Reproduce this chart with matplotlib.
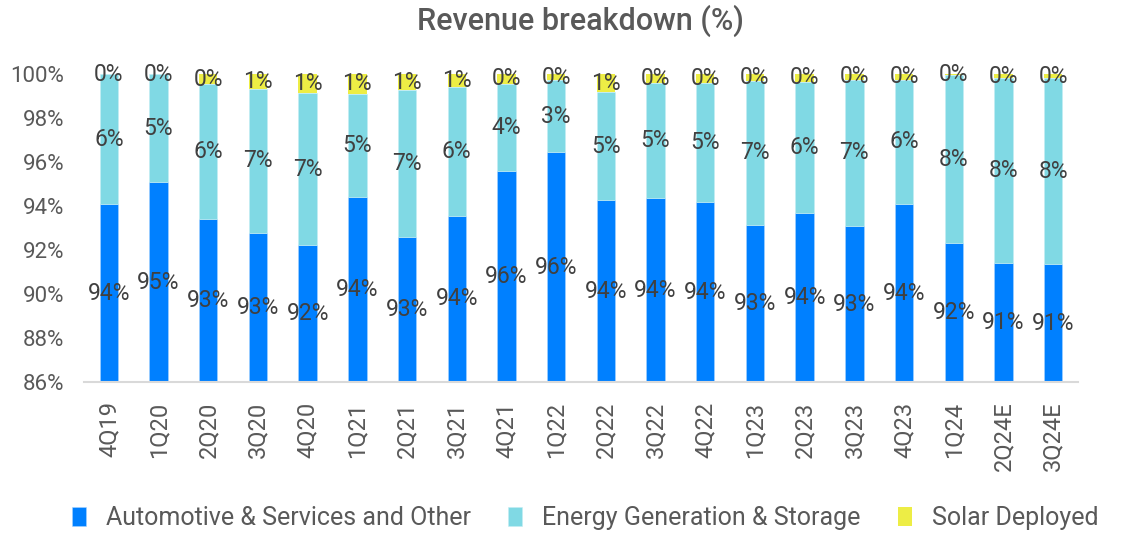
import matplotlib
matplotlib.use("Agg")
import matplotlib.pyplot as plt
import numpy as np

plt.rcParams['font.family'] = ['Roboto', 'DejaVu Sans']

quarters = ["4Q19", "1Q20", "2Q20", "3Q20", "4Q20", "1Q21", "2Q21", "3Q21", "4Q21", "1Q22",
            "2Q22", "3Q22", "4Q22", "1Q23", "2Q23", "3Q23", "4Q23", "1Q24", "2Q24E", "3Q24E"]

# shares in %
automotive = [94.09, 95.09, 93.40, 92.77, 92.23, 94.40, 92.60, 93.55, 95.60, 96.45,
              94.27, 94.36, 94.18, 93.14, 93.68, 93.09, 94.09, 92.32, 91.40, 91.36]
solar = [0.02, 0.02, 0.46, 0.68, 0.87, 0.91, 0.73, 0.61, 0.45, 0.28,
         0.83, 0.42, 0.42, 0.31, 0.36, 0.27, 0.27, 0.05, 0.20, 0.20]
energy = [100 - a - s for a, s in zip(automotive, solar)]

c_auto = "#0080FF"
c_energy = "#80D9E4"
c_solar = "#EDED45"
txt = "#404040"

fig = plt.figure(figsize=(11.32, 5.33), dpi=100)
ax = fig.add_axes([0.0742, 0.2833, 0.8781, 0.5779])

x = np.arange(len(quarters))
w = 0.37
b1 = ax.bar(x, automotive, w, color=c_auto, edgecolor="#a8d4ff", linewidth=0.4,
            label="Automotive & Services and Other")
b2 = ax.bar(x, energy, w, bottom=automotive, color=c_energy, edgecolor="#c4eef4", linewidth=0.4,
            label="Energy Generation & Storage")
bot3 = [a + e for a, e in zip(automotive, energy)]
b3 = ax.bar(x, solar, w, bottom=bot3, color=c_solar, linewidth=0,
            label="Solar Deployed")

# automotive labels centred on visible part of the bar
for xi, a in zip(x, automotive):
    ax.text(xi, (86 + a) / 2, f"{a:.0f}%", ha="center", va="center", fontsize=16.5, color=txt)
ax.bar_label(b2, labels=[f"{v:.0f}%" for v in energy], label_type="center", fontsize=16.5, color=txt)
ax.bar_label(b3, labels=[f"{v:.0f}%" for v in solar], label_type="center", fontsize=16.5, color=txt)

ax.set_ylim(86, 100)
ax.set_xlim(-0.5, len(quarters) - 0.5)
ax.set_yticks(np.arange(86, 101, 2))
ax.set_yticklabels([f"{v}%" for v in range(86, 101, 2)])
ax.set_xticks(x)
ax.set_xticklabels(quarters, rotation=90)
ax.tick_params(axis="y", length=0, pad=14, labelsize=16, labelcolor="#595959")
ax.tick_params(axis="x", length=0, pad=14, labelsize=17, labelcolor="#595959")
for s in ["top", "right", "left"]:
    ax.spines[s].set_visible(False)
ax.spines["bottom"].set_color("#D9D9D9")
ax.spines["bottom"].set_linewidth(1.5)

fig.text(0.513, 0.96, "Revenue breakdown (%)", ha="center", va="center",
         fontsize=22, fontweight="medium", color="#595959")

fig.legend(handles=[b1, b2, b3], loc="center", bbox_to_anchor=(0.517, 0.028), ncol=3,
           frameon=False, fontsize=18, labelcolor="#595959", handlelength=0.55,
           handleheight=0.8, handletextpad=0.8, columnspacing=1.5)

fig.savefig("out.png", dpi=100)
